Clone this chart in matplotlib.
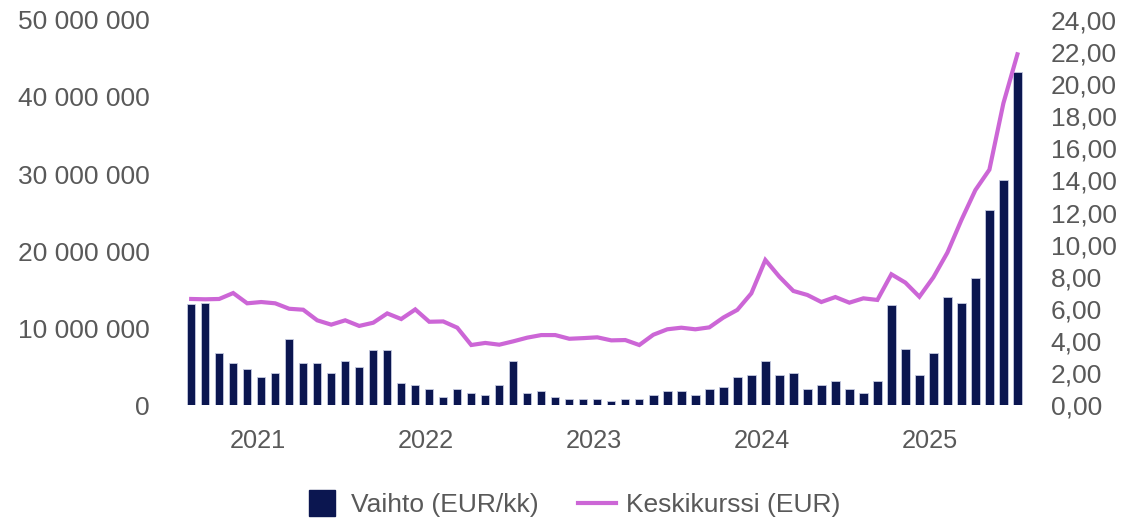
import numpy as np
import matplotlib
matplotlib.use("Agg")
import matplotlib.pyplot as plt
from matplotlib.ticker import FuncFormatter
from matplotlib.lines import Line2D

plt.rcParams['font.family'] = ['Liberation Sans', 'DejaVu Sans']

# Monthly data Aug 2020 - Jul 2025
vaihto = [13.1, 13.3, 6.8, 5.5, 4.7, 3.7, 4.2, 8.6, 5.5, 5.5,
          4.2, 5.75, 5.0, 7.1, 7.1, 2.86, 2.6, 2.08, 1.04, 2.08,
          1.56, 1.3, 2.6, 5.75, 1.56, 1.82, 1.04, 0.78, 0.78, 0.78,
          0.52, 0.78, 0.78, 1.3, 1.82, 1.82, 1.3, 2.08, 2.34, 3.64,
          3.9, 5.75, 3.9, 4.2, 2.08, 2.6, 3.12, 2.08, 1.56, 3.12,
          13.0, 7.3, 3.9, 6.8, 14.07, 13.3, 16.45, 25.3, 29.2, 43.3]
vaihto = [v * 1e6 for v in vaihto]

keskikurssi = [6.61, 6.59, 6.61, 6.98, 6.34, 6.42, 6.34, 6.0, 5.94, 5.28,
               5.01, 5.28, 4.93, 5.13, 5.71, 5.36, 5.96, 5.19, 5.21, 4.82,
               3.74, 3.87, 3.76, 3.97, 4.2, 4.36, 4.36, 4.13, 4.17, 4.22,
               4.03, 4.05, 3.74, 4.38, 4.72, 4.82, 4.72, 4.84, 5.45, 5.93,
               6.96, 9.04, 8.0, 7.11, 6.86, 6.42, 6.73, 6.38, 6.65, 6.55,
               8.15, 7.63, 6.75, 7.96, 9.5, 11.53, 13.4, 14.67, 18.81, 21.86]

years = ['2021', '2022', '2023', '2024', '2025']
first_jan = 5  # Jan 2021 is the 6th month in the series

bar_color = '#0B1650'
line_color = '#CC66D6'
text_color = '#595959'

x = np.arange(len(vaihto))

fig = plt.figure(figsize=(11.34, 5.22), dpi=100)
ax = fig.add_axes([0.155, 0.2241, 0.757, 0.7376])
ax2 = ax.twinx()

ax.bar(x, vaihto, width=0.6, color=bar_color, edgecolor='#C5CAE0', linewidth=0.6, zorder=2)
ax2.plot(x, keskikurssi, color=line_color, linewidth=3, solid_joinstyle='miter', zorder=3)

ax.set_xlim(-1.1, 60.2)
ax.set_ylim(0, 50e6)
ax2.set_ylim(0, 24)
ax.set_yticks(np.arange(0, 50e6 + 1, 10e6))
ax2.set_yticks(np.arange(0, 24.1, 2))

ax.yaxis.set_major_formatter(FuncFormatter(lambda v, p: f"{int(v):,}".replace(",", " ")))
ax2.yaxis.set_major_formatter(FuncFormatter(lambda v, p: f"{v:.2f}".replace(".", ",")))

ax.set_xticks([first_jan - 0.25 + 12 * k for k in range(len(years))])
ax.set_xticklabels(years)

for a in (ax, ax2):
    for s in a.spines.values():
        s.set_visible(False)
ax.tick_params(axis='y', length=0, labelsize=19, labelcolor=text_color, pad=19)
ax2.tick_params(axis='y', length=0, labelsize=19, labelcolor=text_color, pad=12)
ax.tick_params(axis='x', length=0, labelsize=18.3, labelcolor=text_color, pad=17)

handles = [Line2D([0], [0], marker='s', markersize=19, color=bar_color, linestyle='none'),
           Line2D([0], [0], color=line_color, linewidth=3)]
fig.legend(handles, ['Vaihto (EUR/kk)', 'Keskikurssi (EUR)'],
           loc='center', bbox_to_anchor=(0.504, 0.033), ncol=2, frameon=False,
           fontsize=19, labelcolor=text_color, handlelength=1.43,
           handletextpad=0.38, columnspacing=1.5)

fig.savefig('out.png', dpi=100)
